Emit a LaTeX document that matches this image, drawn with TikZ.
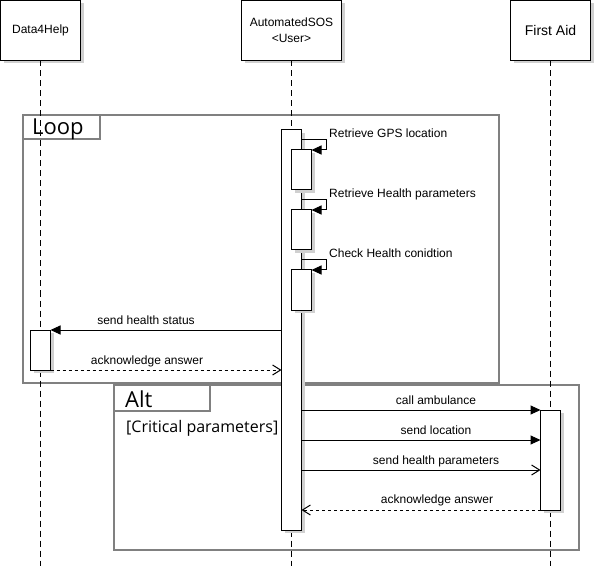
\documentclass[tikz,border=0pt]{standalone}
\usepackage{fontspec}
\setmainfont{Liberation Sans}
\newfontfamily\calib{Open Sans}
\usetikzlibrary{arrows.meta,shadows}
\definecolor{framegray}{RGB}{128,128,128}
\definecolor{shadowgray}{RGB}{208,208,208}
\tikzset{
  shad/.style={drop shadow={shadow xshift=3pt,shadow yshift=-3pt,fill=shadowgray,opacity=1}},
  headbox/.style={draw=black,line width=1pt,fill=white,shad,inner sep=0pt,outer sep=0pt,align=center,font=\fontsize{12}{16}\selectfont},
  actbox/.style={draw=black,line width=1pt,fill=white,shad,inner sep=0pt,outer sep=0pt,minimum width=20pt},
  lifeline/.style={line width=1pt,dash pattern=on 6pt off 4pt},
  framebox/.style={draw=framegray,line width=2pt,inner sep=0pt,outer sep=0pt},
  msg/.style={line width=1pt,-{Triangle[length=10pt,width=9pt]}},
  msgopen/.style={line width=1pt,-{Straight Barb[length=8pt,width=10pt]}},
  reply/.style={msgopen,dash pattern=on 3pt off 3pt},
  lbl/.style={font=\fontsize{12}{14}\selectfont,inner sep=0pt},
  bigtag/.style={font=\calib\fontsize{22}{26}\selectfont,inner sep=0pt},
}
\begin{document}
\begin{tikzpicture}[x=1pt,y=-1pt]
\useasboundingbox (0,0) rectangle (594,585);
% frames
\node[framebox,anchor=north west,minimum width=476pt,minimum height=268pt] (loop) at (23,115) {};
\node[framebox,anchor=north west,minimum width=77pt,minimum height=24pt] (looptag) at (loop.north west) {};
\node[bigtag,anchor=base west] (looplbl) at (32,135) {Loop};
\node[framebox,anchor=north west,minimum width=465pt,minimum height=165pt] (alt) at (114,385) {};
\node[framebox,anchor=north west,minimum width=96pt,minimum height=26pt] (alttag) at (alt.north west) {};
\node[bigtag,anchor=base west] (altlbl) at (125,407) {Alt};
\node[font=\calib\fontsize{16}{18}\selectfont,inner sep=0pt,anchor=base west] (guard) at (126,432) {[Critical parameters]};
% heads
\node[headbox,minimum width=80pt,minimum height=60pt] (d4h) at (40.5,30.5) {Data4Help};
\node[headbox,minimum width=100pt,minimum height=60pt] (sos) at (291.5,30.5) {AutomatedSOS\\{}<User>};
\node[headbox,minimum width=80pt,minimum height=60pt,font=\fontsize{14}{16}\selectfont] (fa) at (550.5,30.5) {First Aid};
% lifeline ends
\coordinate (d4hend) at (40.5,566);
\coordinate (sosend) at (291.5,566);
\coordinate (faend) at (550.5,566);
\draw[lifeline] (d4h.south) -- (d4hend);
\draw[lifeline] (sos.south) -- (sosend);
\draw[lifeline] (fa.south) -- (faend);
% activations
\node[actbox,minimum height=400pt] (sosact) at (291.5,330) {};
\node[actbox,minimum height=40pt] (sub1) at (301.5,170) {};
\node[actbox,minimum height=40pt] (sub2) at (301.5,230) {};
\node[actbox,minimum height=40pt] (sub3) at (301.5,290) {};
\node[actbox,minimum height=40pt] (d4hact) at (40.5,350) {};
\node[actbox,minimum height=100pt] (faact) at (550.5,460) {};
% self messages
\draw[msg] ([yshift=10pt]sosact.east |- sub1.north) -- ++(25,0) -- ++(0,10) -- (sub1.north east);
\node[lbl,anchor=base west] (l1) at (329,138) {Retrieve GPS location};
\draw[msg] ([yshift=10pt]sosact.east |- sub2.north) -- ++(25,0) -- ++(0,10) -- (sub2.north east);
\node[lbl,anchor=base west] (l2) at (329,198) {Retrieve Health parameters};
\draw[msg] ([yshift=10pt]sosact.east |- sub3.north) -- ++(25,0) -- ++(0,10) -- (sub3.north east);
\node[lbl,anchor=base west] (l3) at (329,258) {Check Health conidtion};
% loop messages
\draw[msg] (sosact.west |- d4hact.north) -- (d4hact.north east);
\node[lbl,anchor=base] (l4) at (146,324) {send health status};
\draw[reply] (d4hact.south east) -- (sosact.west |- d4hact.south);
\node[lbl,anchor=base] (l5) at (147,364) {acknowledge answer};
% alt messages
\coordinate (m2) at (0,440);
\coordinate (m3) at (0,470);
\draw[msg] (sosact.east |- faact.north) -- (faact.north west);
\node[lbl,anchor=base] (l6) at (436,404) {call ambulance};
\draw[msg] (sosact.east |- m2) -- (faact.west |- m2);
\node[lbl,anchor=base] (l7) at (436,434) {send location};
\draw[msgopen] (sosact.east |- m3) -- (faact.west |- m3);
\node[lbl,anchor=base] (l8) at (436,464) {send health parameters};
\draw[reply] (faact.south west) -- (sosact.east |- faact.south);
\node[lbl,anchor=base] (l9) at (437,503) {acknowledge answer};
\end{tikzpicture}
\end{document}
